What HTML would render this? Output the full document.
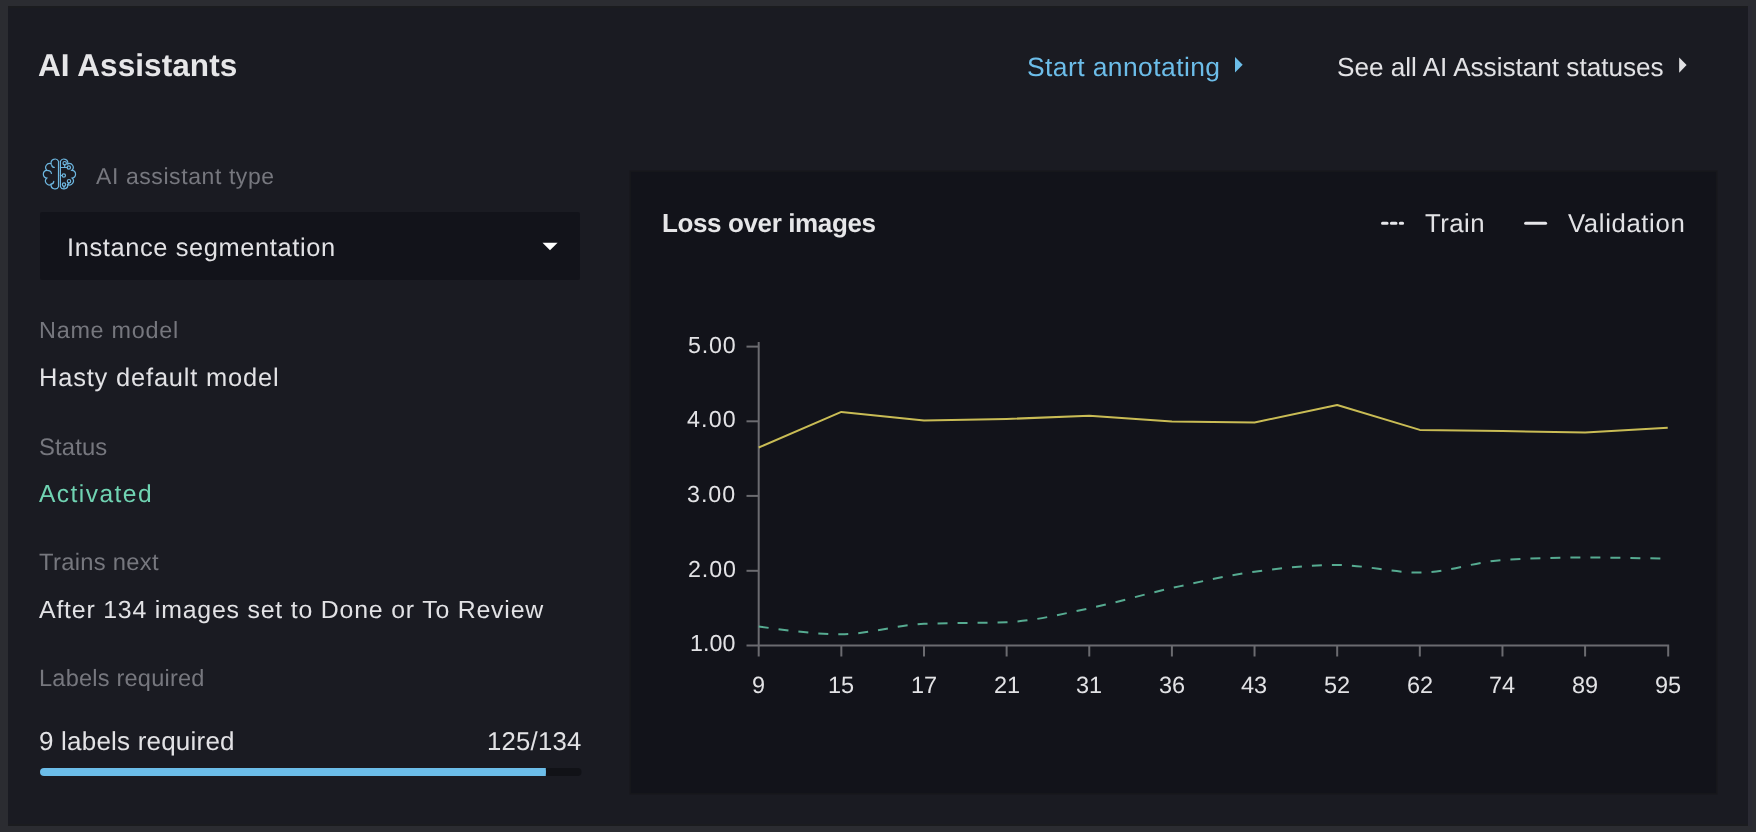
<!DOCTYPE html>
<html><head><meta charset="utf-8"><style>
html,body{margin:0;padding:0;width:1756px;height:832px;overflow:hidden;background:#2b2c31;}
.t{position:absolute;white-space:nowrap;line-height:1;will-change:transform;text-rendering:geometricPrecision;font-family:"Liberation Sans",sans-serif;}
#panel{position:absolute;left:8px;top:6px;width:1740px;height:820px;background:#1a1b22;}
#chart{position:absolute;left:631px;top:172px;width:1085px;height:621px;background:#12131a;box-shadow:0 0 0 1.5px #16171b;}
#drop{position:absolute;left:40px;top:212px;width:540px;height:68px;background:#12131a;border-radius:2px;}
svg{position:absolute;left:0;top:0;}
</style></head><body>
<div id="panel"></div><div style="position:absolute;left:1748px;top:6px;width:4px;height:820px;background:#2a2a33"></div><div style="position:absolute;left:8px;top:6px;width:1740px;height:2px;background:#1b1c1f"></div><div style="position:absolute;left:8px;top:824px;width:1740px;height:2px;background:#1b1c1f"></div>
<div id="chart"></div>
<div id="drop"></div>
<svg width="1756" height="832" viewBox="0 0 1756 832">
<path d="M758.7,342 V656.5" stroke="#6b6b70" stroke-width="2" fill="none"/>
<path d="M758.7,645.5 H1668.2 V656.5" stroke="#6b6b70" stroke-width="2" fill="none"/>
<path d="M746.5,346.6 H758.7" stroke="#6b6b70" stroke-width="2"/>
<path d="M746.5,421.3 H758.7" stroke="#6b6b70" stroke-width="2"/>
<path d="M746.5,495.9 H758.7" stroke="#6b6b70" stroke-width="2"/>
<path d="M746.5,570.8 H758.7" stroke="#6b6b70" stroke-width="2"/>
<path d="M746.5,645.5 H758.7" stroke="#6b6b70" stroke-width="2"/>
<path d="M841.34,645.5 V656.5" stroke="#6b6b70" stroke-width="2"/>
<path d="M923.98,645.5 V656.5" stroke="#6b6b70" stroke-width="2"/>
<path d="M1006.62,645.5 V656.5" stroke="#6b6b70" stroke-width="2"/>
<path d="M1089.26,645.5 V656.5" stroke="#6b6b70" stroke-width="2"/>
<path d="M1171.90,645.5 V656.5" stroke="#6b6b70" stroke-width="2"/>
<path d="M1254.54,645.5 V656.5" stroke="#6b6b70" stroke-width="2"/>
<path d="M1337.18,645.5 V656.5" stroke="#6b6b70" stroke-width="2"/>
<path d="M1419.82,645.5 V656.5" stroke="#6b6b70" stroke-width="2"/>
<path d="M1502.46,645.5 V656.5" stroke="#6b6b70" stroke-width="2"/>
<path d="M1585.10,645.5 V656.5" stroke="#6b6b70" stroke-width="2"/>
<path d="M758.70,447.50 L841.34,411.90 L923.98,420.50 L1006.62,419.00 L1089.26,415.70 L1171.90,421.60 L1254.54,422.50 L1337.18,405.00 L1419.82,429.90 L1502.46,431.00 L1585.10,432.60 L1667.74,427.70" stroke="#c9bc55" stroke-width="2" fill="none" stroke-linejoin="round"/>
<path d="M758.70,626.50C786.25,630.35 813.79,634.20 841.34,634.20C868.89,634.20 896.43,624.87 923.98,623.80C951.53,622.73 979.07,623.27 1006.62,622.20C1034.17,621.13 1061.71,614.00 1089.26,608.30C1116.81,602.60 1144.35,594.10 1171.90,588.00C1199.45,581.90 1226.99,575.53 1254.54,571.70C1282.09,567.87 1309.63,565.00 1337.18,565.00C1364.73,565.00 1392.27,572.60 1419.82,572.60C1447.37,572.60 1474.91,561.67 1502.46,560.00C1530.01,558.33 1557.55,557.50 1585.10,557.50C1612.65,557.50 1640.19,558.10 1667.74,558.70" stroke="#56ab91" stroke-width="2" fill="none" stroke-dasharray="10 10"/>
<path d="M1382.5,223.3 H1402.6" stroke="#e6e6ea" stroke-width="3" stroke-linecap="round" stroke-dasharray="4.6 4.3"/>
<path d="M1525.6,223.2 H1545.6" stroke="#e6e6ea" stroke-width="3" stroke-linecap="round"/>
<path d="M1235,57 L1242.7,64.7 L1235,72.4Z" fill="#6cbde9"/>
<path d="M1679.2,57.6 L1686.6,65.1 L1679.2,72.7Z" fill="#e2e2e5"/>
<path d="M542.5,242.8 H557.6 L550,250.2Z" fill="#ffffff"/>
<rect x="40" y="768" width="541.5" height="8" rx="4" fill="#111217"/>
<rect x="40" y="768" width="505.8" height="8" rx="4" fill="#6cbde9"/>
<rect x="538" y="768" width="7.8" height="8" fill="#6cbde9"/>
<g transform="translate(40,155.8)" stroke="#6db6df" stroke-width="1.2" fill="none" stroke-linecap="round">
<path d="M18.5,30.92 V5.48 A3.9,3.9 0 0 0 11.19,8.04 A3.9,3.9 0 0 0 7.00,14.51 A3.9,3.9 0 0 0 6.81,22.28 A3.9,3.9 0 0 0 11.13,28.69 A3.9,3.9 0 0 0 18.5,30.92"/>
<path d="M20.4,30.92 V5.48 A3.9,3.9 0 0 1 27.71,8.04 A3.9,3.9 0 0 1 31.90,14.51 A3.9,3.9 0 0 1 32.09,22.28 A3.9,3.9 0 0 1 27.77,28.69 A3.9,3.9 0 0 1 20.4,30.92"/>
<path d="M11.7,9.3 A2.6,2.6 0 0 0 14.3,11.6"/>
<path d="M11.4,17.7 A3.0,3.0 0 0 0 7.8,14.9"/>
<path d="M13.8,25.6 A3.0,3.0 0 0 1 10.8,28.3"/>
<circle cx="24.7" cy="7.4" r="1.7"/>
<circle cx="28.8" cy="11.7" r="1.7"/>
<circle cx="23.8" cy="19.7" r="1.7"/>
<circle cx="29.0" cy="25.4" r="1.7"/>
<circle cx="24.0" cy="28.8" r="1.7"/>
<path d="M20.4,11.7 H27.1"/>
<path d="M20.4,19.7 H22.1"/>
<path d="M24.0,30.5 V32.5"/>
<path d="M24.7,9.1 V11.7"/>
<path d="M29,27.1 L27.5,29.5"/>
</g>
</svg>
<div class="t" style="left:37.98px;top:50.00px;font-size:31.54px;letter-spacing:0.056px;color:#e6e6e8;font-weight:bold;">AI Assistants</div>
<div class="t" style="left:95.75px;top:165.24px;font-size:22.97px;letter-spacing:0.599px;color:#76777e;">AI assistant type</div>
<div class="t" style="left:66.89px;top:236.19px;font-size:25.44px;letter-spacing:0.607px;color:#e2e2e5;">Instance segmentation</div>
<div class="t" style="left:39.16px;top:319.26px;font-size:23.40px;letter-spacing:0.738px;color:#76777e;">Name model</div>
<div class="t" style="left:38.54px;top:366.19px;font-size:25.44px;letter-spacing:0.826px;color:#e2e2e5;">Hasty default model</div>
<div class="t" style="left:38.97px;top:435.60px;font-size:23.84px;letter-spacing:0.145px;color:#76777e;">Status</div>
<div class="t" style="left:39.10px;top:482.78px;font-size:24.56px;letter-spacing:1.454px;color:#70d3b2;">Activated</div>
<div class="t" style="left:38.64px;top:550.74px;font-size:23.76px;letter-spacing:0.300px;color:#76777e;">Trains next</div>
<div class="t" style="left:39.11px;top:598.87px;font-size:24.85px;letter-spacing:0.811px;color:#e2e2e5;">After 134 images set to Done or To Review</div>
<div class="t" style="left:39.18px;top:666.96px;font-size:23.55px;letter-spacing:0.223px;color:#76777e;">Labels required</div>
<div class="t" style="left:39.25px;top:728.04px;font-size:26.02px;letter-spacing:0.198px;color:#e2e2e5;">9 labels required</div>
<div class="t" style="left:487.18px;top:729.54px;font-size:25.73px;letter-spacing:0.213px;color:#e2e2e5;">125/134</div>
<div class="t" style="left:1026.89px;top:53.77px;font-size:26.45px;letter-spacing:0.424px;color:#6cbde9;">Start annotating</div>
<div class="t" style="left:1336.59px;top:54.13px;font-size:26.16px;letter-spacing:-0.019px;color:#e2e2e5;">See all AI Assistant statuses</div>
<div class="t" style="left:661.77px;top:209.72px;font-size:26.02px;letter-spacing:-0.389px;color:#e6e6e8;font-weight:bold;">Loss over images</div>
<div class="t" style="left:1425.49px;top:212.38px;font-size:25.73px;letter-spacing:0.465px;color:#e2e2e5;">Train</div>
<div class="t" style="left:1568.12px;top:212.38px;font-size:25.73px;letter-spacing:0.628px;color:#e2e2e5;">Validation</div>
<div class="t" style="left:687.60px;top:334.01px;font-size:23.26px;letter-spacing:0.848px;color:#e2e2e5;">5.00</div>
<div class="t" style="left:686.60px;top:408.31px;font-size:23.26px;letter-spacing:1.181px;color:#e2e2e5;">4.00</div>
<div class="t" style="left:687.30px;top:482.81px;font-size:23.26px;letter-spacing:0.948px;color:#e2e2e5;">3.00</div>
<div class="t" style="left:687.50px;top:558.31px;font-size:23.26px;letter-spacing:0.881px;color:#e2e2e5;">2.00</div>
<div class="t" style="left:689.90px;top:632.01px;font-size:23.26px;letter-spacing:0.081px;color:#e2e2e5;">1.00</div>
<div class="t" style="left:752.17px;top:674.21px;font-size:23.50px;letter-spacing:0.000px;color:#e2e2e5;">9</div>
<div class="t" style="left:828.27px;top:674.21px;font-size:23.50px;letter-spacing:-0.000px;color:#e2e2e5;">15</div>
<div class="t" style="left:910.91px;top:674.21px;font-size:23.50px;letter-spacing:-0.000px;color:#e2e2e5;">17</div>
<div class="t" style="left:993.55px;top:674.21px;font-size:23.50px;letter-spacing:-0.000px;color:#e2e2e5;">21</div>
<div class="t" style="left:1076.19px;top:674.21px;font-size:23.50px;letter-spacing:0.000px;color:#e2e2e5;">31</div>
<div class="t" style="left:1158.83px;top:674.21px;font-size:23.50px;letter-spacing:0.000px;color:#e2e2e5;">36</div>
<div class="t" style="left:1241.47px;top:674.21px;font-size:23.50px;letter-spacing:0.000px;color:#e2e2e5;">43</div>
<div class="t" style="left:1324.11px;top:674.21px;font-size:23.50px;letter-spacing:0.000px;color:#e2e2e5;">52</div>
<div class="t" style="left:1406.75px;top:674.21px;font-size:23.50px;letter-spacing:0.000px;color:#e2e2e5;">62</div>
<div class="t" style="left:1489.39px;top:674.21px;font-size:23.50px;letter-spacing:0.000px;color:#e2e2e5;">74</div>
<div class="t" style="left:1572.03px;top:674.21px;font-size:23.50px;letter-spacing:0.000px;color:#e2e2e5;">89</div>
<div class="t" style="left:1654.67px;top:674.21px;font-size:23.50px;letter-spacing:0.000px;color:#e2e2e5;">95</div>
</body></html>
